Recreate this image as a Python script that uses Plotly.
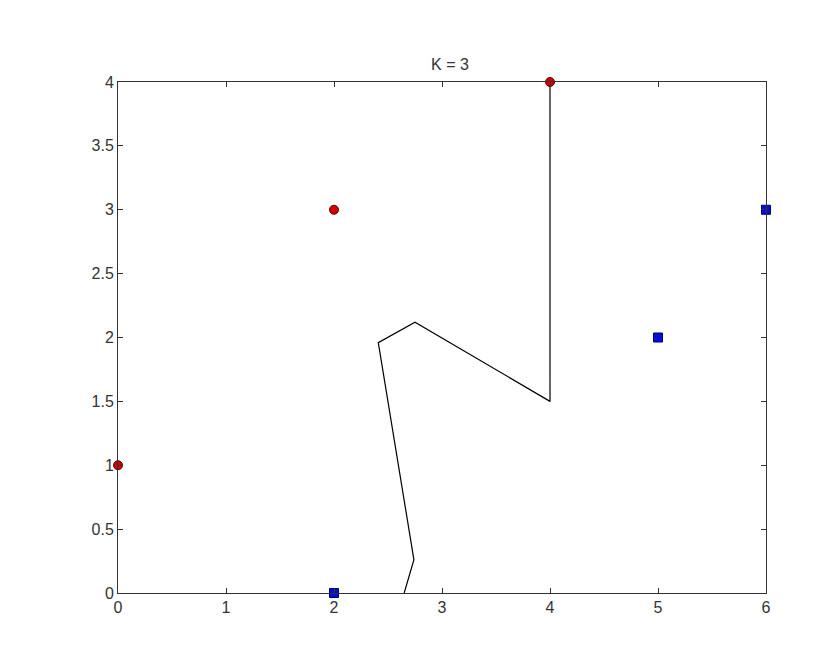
import plotly.graph_objects as go

red_x = [0, 2, 4]
red_y = [1, 3, 4]
blue_x = [2, 5, 6]
blue_y = [0, 2, 3]
boundary_x = [2.65, 2.74, 2.41, 2.75, 4.0, 4.0]
boundary_y = [0.0, 0.26, 1.96, 2.12, 1.5, 4.0]
x_ticks = [0, 1, 2, 3, 4, 5, 6]
y_ticks = [0, 0.5, 1, 1.5, 2, 2.5, 3, 3.5, 4]

fig = go.Figure()
fig.add_trace(go.Scatter(x=boundary_x, y=boundary_y, mode="lines",
                         line=dict(color="black", width=1.2), hoverinfo="skip"))
fig.add_trace(go.Scatter(x=red_x, y=red_y, mode="markers", cliponaxis=False,
                         marker=dict(symbol="circle", size=9, color="#d40000",
                                     line=dict(color="#600000", width=1))))
fig.add_trace(go.Scatter(x=blue_x, y=blue_y, mode="markers", cliponaxis=False,
                         marker=dict(symbol="square", size=9, color="#0010d8",
                                     line=dict(color="#000060", width=1))))

axis_common = dict(showgrid=False, zeroline=False, showline=True, linecolor="#333333",
                   linewidth=1, mirror="ticks", ticks="inside", ticklen=5,
                   tickcolor="#333333", tickfont=dict(family="Liberation Sans, Arial", size=16, color="#333333"))
fig.update_xaxes(range=[0, 6], tickvals=x_ticks, ticktext=[str(v) for v in x_ticks], **axis_common)
fig.update_yaxes(range=[0, 4], tickvals=y_ticks, ticktext=[("%g" % v) for v in y_ticks], **axis_common)

fig.update_layout(
    width=834, height=652,
    margin=dict(l=110, r=76, t=74, b=67),
    plot_bgcolor="white", paper_bgcolor="white",
    showlegend=False,
    title=dict(text="K = 3", x=0.53, xanchor="center", y=0.905, yanchor="bottom",
               font=dict(family="Liberation Sans, Arial", size=16, color="#333333")),
)
fig.write_html("out.html")
